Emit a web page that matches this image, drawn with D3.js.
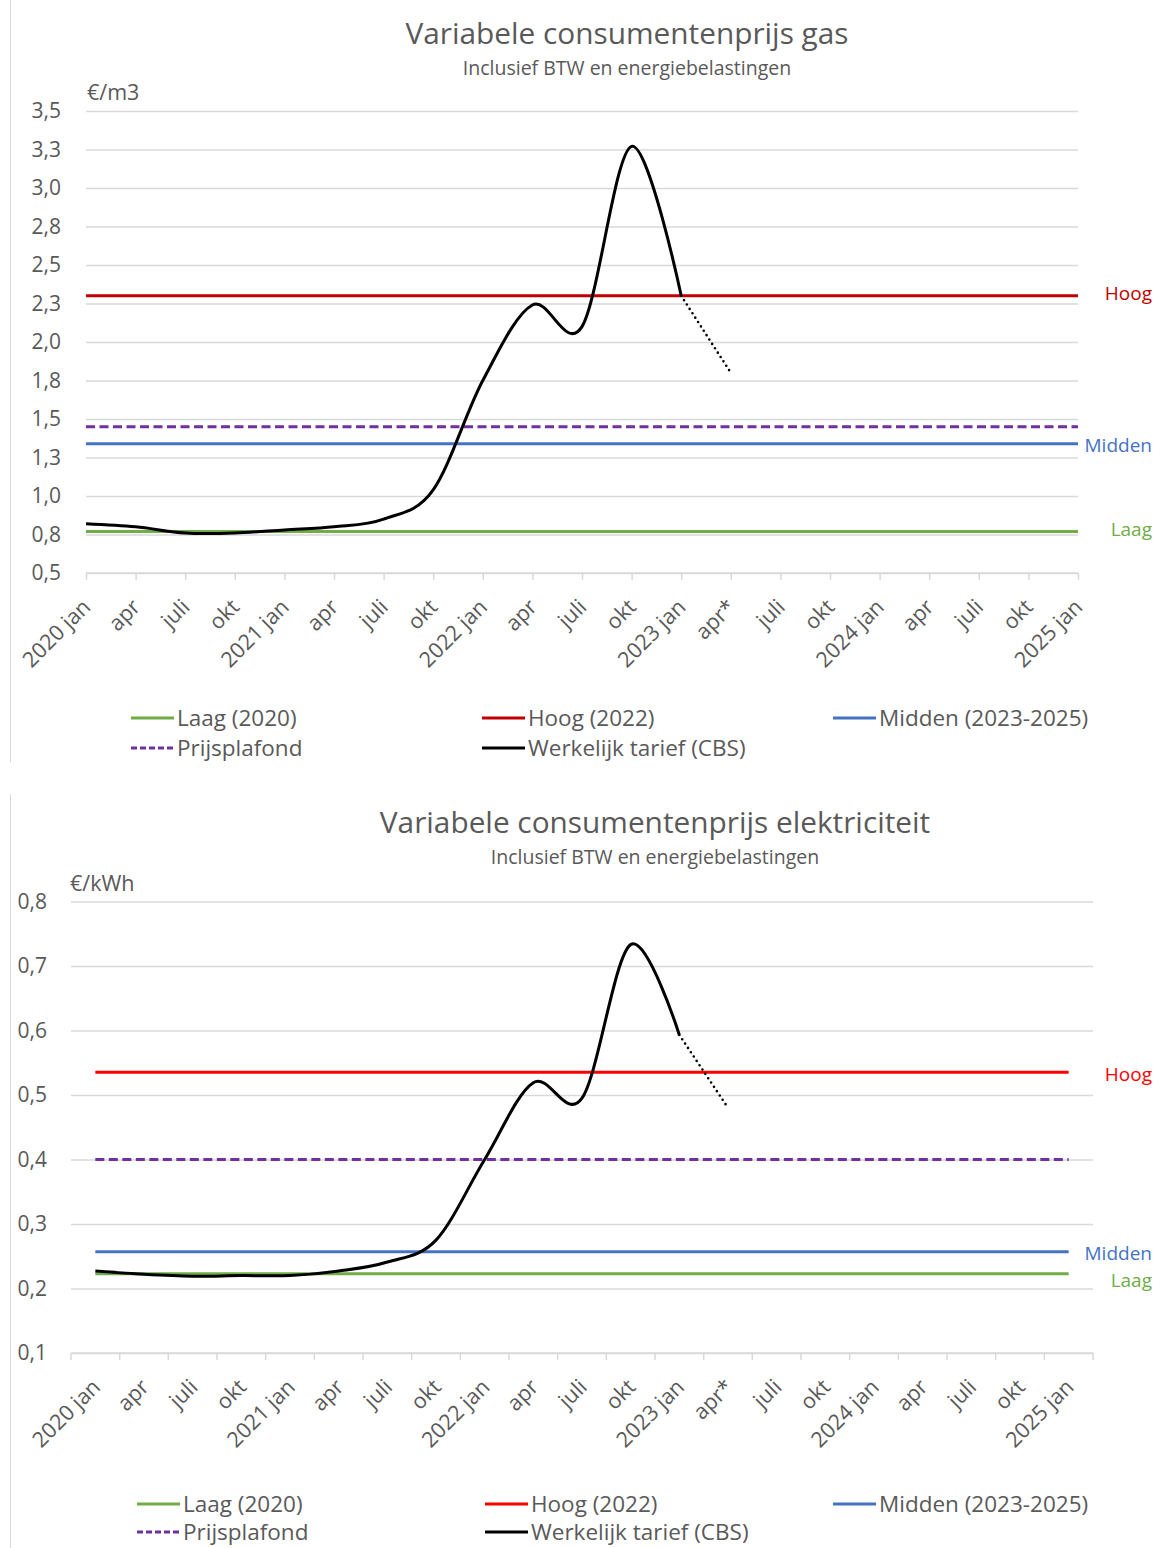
<!DOCTYPE html>
<html><head><meta charset="utf-8">
<script src="https://cdn.jsdelivr.net/npm/d3@7"></script>
<style>
body{margin:0;background:#fff}
text{font-family:"Open Sans",sans-serif;fill:#595959}
</style>
</head><body>
<svg id="c" width="1157" height="1548"></svg>
<script>
// ---------- DATA ----------
const categories = ["2020 jan","apr","juli","okt","2021 jan","apr","juli","okt","2022 jan","apr","juli","okt","2023 jan","apr*","juli","okt","2024 jan","apr","juli","okt","2025 jan"];

// Gas (€/m3), quarterly
const gasActual   = [0.82,0.80,0.76,0.76,0.78,0.80,0.85,1.04,1.75,2.24,2.10,3.27,2.30];
const gasForecast = [2.30,1.80];          // 2023 jan -> apr*
const gasLevels   = {laag:0.77, hoog:2.30, midden:1.34, plafond:1.45};
const gasTicks      = [0.5,0.75,1.0,1.25,1.5,1.75,2.0,2.25,2.5,2.75,3.0,3.25,3.5];
const gasTickLabels = ["0,5","0,8","1,0","1,3","1,5","1,8","2,0","2,3","2,5","2,8","3,0","3,3","3,5"];

// Elektriciteit (€/kWh), quarterly
const elecActual   = [0.227,0.222,0.219,0.220,0.220,0.227,0.241,0.275,0.40,0.519,0.495,0.733,0.593];
const elecForecast = [0.593,0.480];
const elecLevels   = {laag:0.223, hoog:0.535, midden:0.257, plafond:0.40};
const elecTicks      = [0.1,0.2,0.3,0.4,0.5,0.6,0.7,0.8];
const elecTickLabels = ["0,1","0,2","0,3","0,4","0,5","0,6","0,7","0,8"];

const legendItems = [
  {key:"laag",    label:"Laag (2020)"},
  {key:"hoog",    label:"Hoog (2022)"},
  {key:"midden",  label:"Midden (2023-2025)"},
  {key:"plafond", label:"Prijsplafond"},
  {key:"actual",  label:"Werkelijk tarief (CBS)"}
];
const sideLabels = [{key:"hoog",label:"Hoog"},{key:"midden",label:"Midden"},{key:"laag",label:"Laag"}];

// ---------- DRAW ----------
const svg = d3.select("#c");
const GRID = "#d9d9d9", TXT = "#595959";

function drawChart(cfg){
  const g = svg.append("g");
  g.append("line").attr("x1",10.5).attr("x2",10.5).attr("y1",cfg.boxTop).attr("y2",cfg.boxBottom)
    .attr("stroke",GRID).attr("stroke-width",1);

  g.append("text").attr("x",cfg.titleX).attr("y",cfg.titleY).attr("text-anchor","middle")
    .style("font-size","29.8px").text(cfg.title);
  g.append("text").attr("x",cfg.titleX).attr("y",cfg.titleY+31).attr("text-anchor","middle")
    .style("font-size","19.5px").text("Inclusief BTW en energiebelastingen");

  const y = d3.scaleLinear().domain(cfg.yDomain).range([cfg.yBottom, cfg.yTop]);
  const xPos = cfg.xPos;

  const ya = d3.axisLeft(y).tickValues(cfg.ticks).tickSize(-(cfg.axisRight-cfg.axisLeft))
    .tickFormat((d,i)=>cfg.tickLabels[i]).tickPadding(cfg.yLabelPad);
  const yg = g.append("g").attr("transform",`translate(${cfg.axisLeft},0)`).call(ya);
  yg.select(".domain").remove();
  yg.selectAll("line").attr("stroke",GRID).attr("stroke-width",1.5);
  yg.selectAll("text").attr("fill",TXT).style("font-size","21px").style("font-family","'Open Sans',sans-serif");

  g.append("text").attr("x",cfg.unitX).attr("y",cfg.unitY).style("font-size","21.5px").text(cfg.unit);

  const xa = d3.axisBottom(cfg.xAxisScale).tickSize(cfg.tickOnCenter?7:0).tickFormat(i=>categories[i]);
  const xg = g.append("g").attr("transform",`translate(0,${cfg.yBottom})`).call(xa);
  xg.select(".domain").attr("d",`M${cfg.axisLeft},0H${cfg.axisRight}`).attr("stroke",GRID).attr("stroke-width",1.5);
  xg.selectAll("line").attr("stroke",GRID).attr("stroke-width",1.5);
  if(!cfg.tickOnCenter){
    const b = cfg.xAxisScale;
    const bounds = b.domain().map(d=>b(d)).concat([b(b.domain()[b.domain().length-1])+b.step()]);
    xg.selectAll(".bt").data(bounds).join("line").attr("class","bt")
      .attr("x1",d=>d).attr("x2",d=>d).attr("y1",0).attr("y2",7).attr("stroke",GRID).attr("stroke-width",1.5);
  }
  xg.selectAll(".tick text")
    .attr("fill",TXT).style("font-size","21.5px").style("font-family","'Open Sans',sans-serif")
    .attr("text-anchor","end").attr("dy","0.35em").attr("y",0).attr("x",0)
    .attr("transform",`translate(${cfg.xLabelDX},${cfg.xLabelDY}) rotate(-45)`);

  const x0 = cfg.lineLeft, x1 = cfg.lineRight;
  const levelStyle = {
    laag:{c:"#70AD47"}, hoog:{c:cfg.hoogColor}, midden:{c:"#4472C4"}, plafond:{c:"#7030A0",dash:"9 4.5"}
  };
  ["laag","plafond","midden","hoog"].forEach(k=>{
    g.append("line").attr("x1",x0).attr("x2",x1).attr("y1",y(cfg.levels[k])).attr("y2",y(cfg.levels[k]))
      .attr("stroke",levelStyle[k].c).attr("stroke-width",3)
      .attr("stroke-dasharray",levelStyle[k].dash||null);
  });

  const line = d3.line().x((d,i)=>xPos(i)).y(d=>y(d)).curve(d3.curveCardinal.tension(0));
  g.append("path").datum(cfg.actual).attr("d",line).attr("fill","none")
    .attr("stroke","#000").attr("stroke-width",3).attr("stroke-linejoin","round");
  const start = cfg.actual.length-1;
  const fl = d3.line().x((d,i)=>xPos(start+i)).y(d=>y(d));
  g.append("path").datum(cfg.forecast).attr("d",fl).attr("fill","none")
    .attr("stroke","#000").attr("stroke-width",2.6).attr("stroke-dasharray","0 5.2").attr("stroke-linecap","round");

  sideLabels.forEach(s=>{
    g.append("text").attr("x",1152).attr("y",y(cfg.levels[s.key]) + (cfg.sideDY[s.key]||0)).attr("dy","0.35em")
      .attr("text-anchor","end").style("font-size","19px")
      .style("fill",s.key==="hoog"?cfg.hoogText:levelStyle[s.key].c).text(s.label);
  });

  const cols = cfg.legendCols, rows = cfg.legendRows;
  legendItems.forEach((it,i)=>{
    const cx = cols[i%3], cy = rows[Math.floor(i/3)];
    const color = it.key==="actual" ? "#000" : levelStyle[it.key].c;
    g.append("line").attr("x1",cx).attr("x2",cx+43).attr("y1",cy).attr("y2",cy)
      .attr("stroke",color).attr("stroke-width",3)
      .attr("stroke-dasharray",it.key==="plafond"?"6 3":null);
    g.append("text").attr("x",cx+46).attr("y",cy).attr("dy","0.35em").style("font-size","22.5px").text(it.label);
  });
}

// Top: gas — categories on tick marks
const gasX = d3.scalePoint().domain(d3.range(categories.length)).range([86,1078]);
drawChart({
  title:"Variabele consumentenprijs gas", titleX:627, titleY:44,
  boxTop:0, boxBottom:762,
  yDomain:[0.5,3.5], yBottom:573, yTop:111,
  axisLeft:86, axisRight:1078, yLabelPad:25,
  ticks:gasTicks, tickLabels:gasTickLabels,
  unit:"€/m3", unitX:87, unitY:100,
  xPos:i=>gasX(i), xAxisScale:gasX, tickOnCenter:true, xLabelDX:0, xLabelDY:30,
  lineLeft:86, lineRight:1078,
  levels:gasLevels, actual:gasActual, forecast:gasForecast,
  hoogColor:"#C00000", hoogText:"#C00000",
  sideDY:{hoog:-2, midden:2, laag:-2},
  legendCols:[131,482,833], legendRows:[718,748]
});

// Bottom: elektriciteit — categories between tick marks
const elecX = d3.scaleBand().domain(d3.range(categories.length)).range([71,1093]);
drawChart({
  title:"Variabele consumentenprijs elektriciteit", titleX:655, titleY:833,
  boxTop:794, boxBottom:1548,
  yDomain:[0.1,0.8], yBottom:1353, yTop:901.4,
  axisLeft:71, axisRight:1093, yLabelPad:24,
  ticks:elecTicks, tickLabels:elecTickLabels,
  unit:"€/kWh", unitX:70, unitY:891,
  xPos:i=>elecX(i)+elecX.bandwidth()/2, xAxisScale:elecX, tickOnCenter:false, xLabelDX:1, xLabelDY:30,
  lineLeft:elecX(0)+elecX.bandwidth()/2, lineRight:elecX(20)+elecX.bandwidth()/2,
  levels:elecLevels, actual:elecActual, forecast:elecForecast,
  hoogColor:"#FF0000", hoogText:"#FF0000",
  sideDY:{hoog:2, midden:2, laag:7},
  legendCols:[137,485,833], legendRows:[1504,1532]
});
</script>
</body></html>
